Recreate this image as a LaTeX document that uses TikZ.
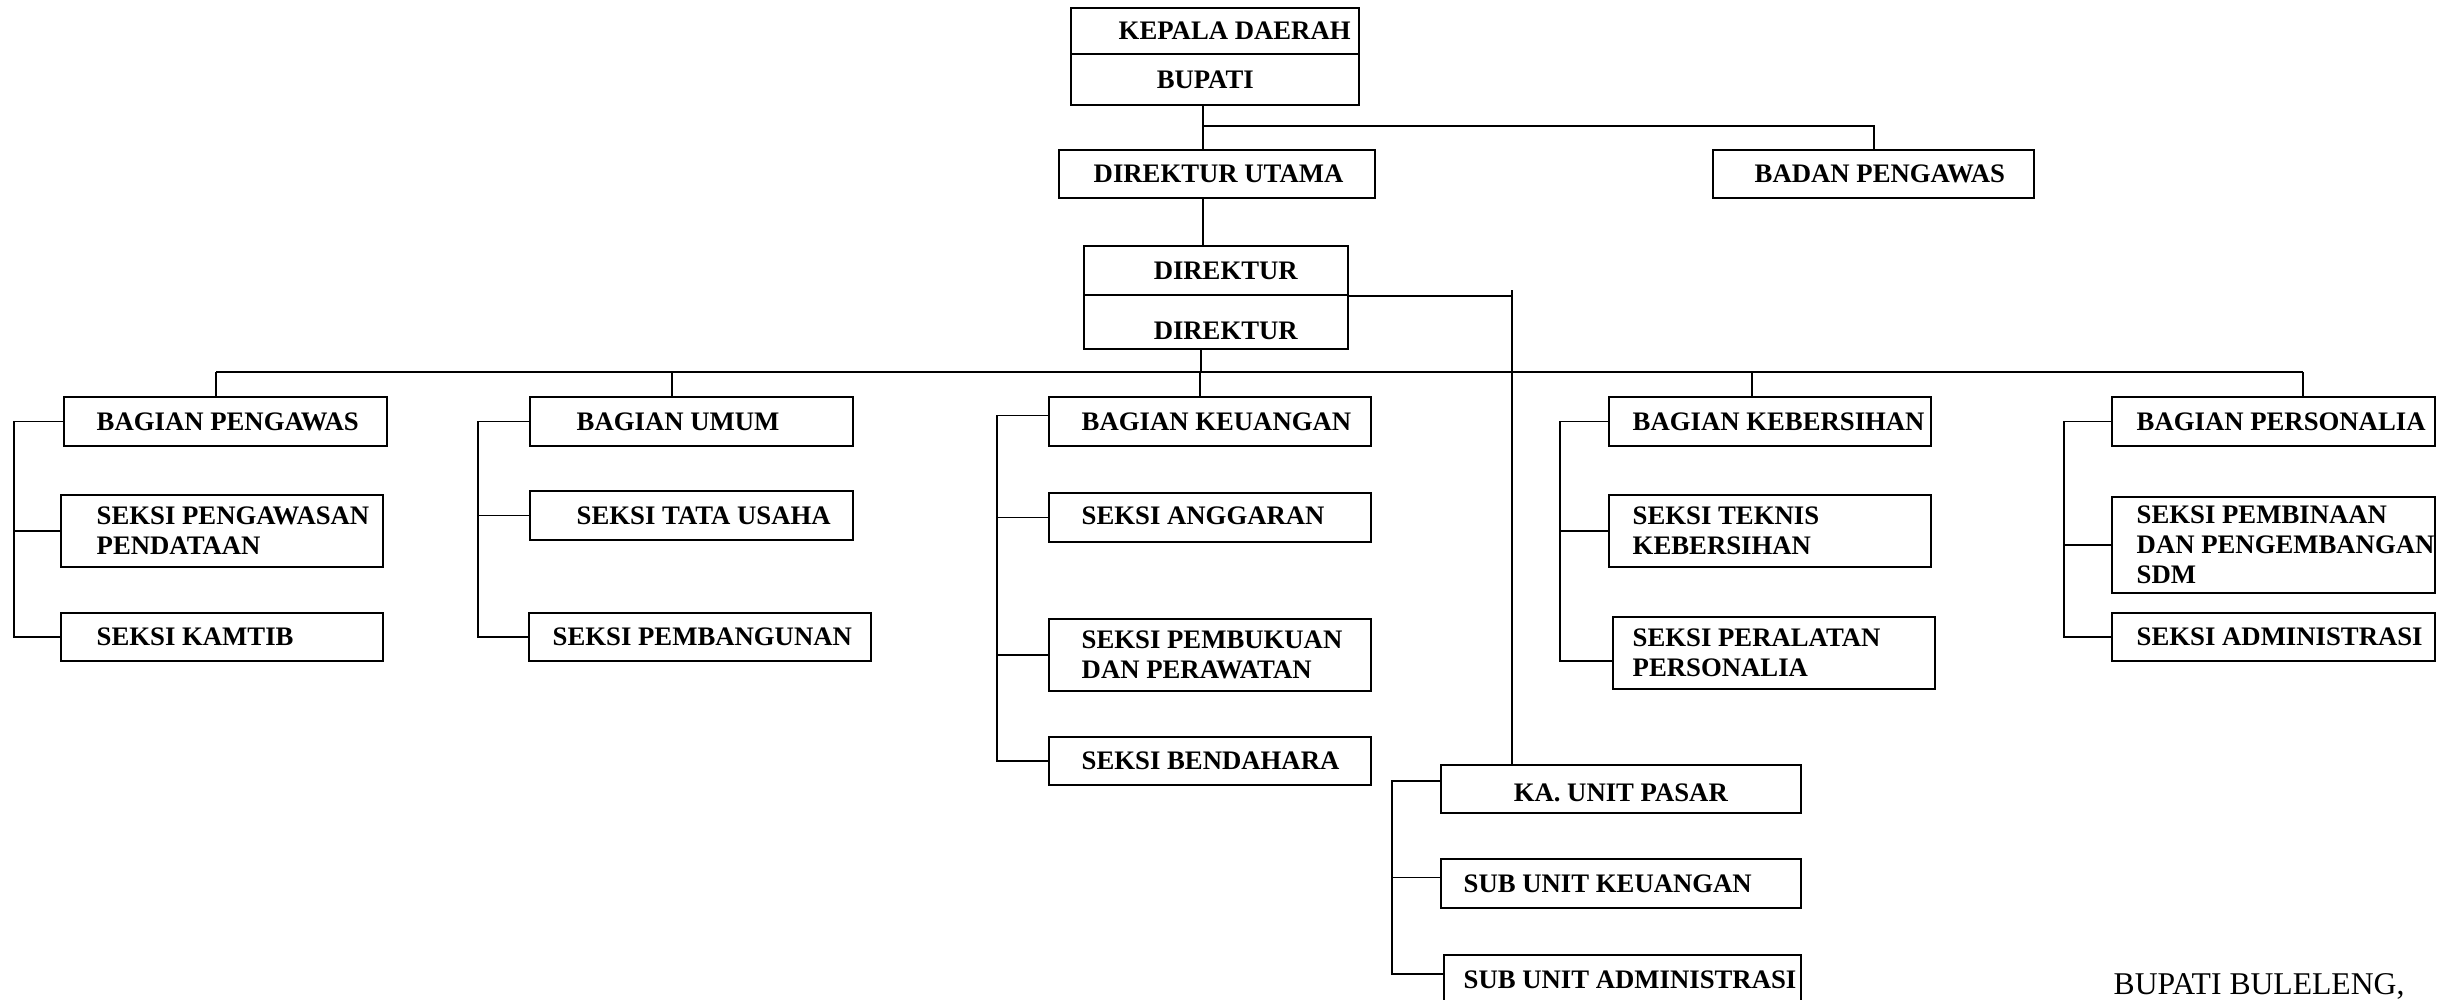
\documentclass[tikz,border=0pt]{standalone}
\usepackage{fontspec}
\setmainfont{Liberation Serif}
\usepackage{tikz}
\usetikzlibrary{positioning,calc}

\begin{document}
\begin{tikzpicture}[x=0.01cm,y=-0.01cm,
    kotak/.style={draw,line width=0.6pt,anchor=north west,inner sep=0pt},
    tulisan/.style={inner sep=0pt,align=left,font=\bfseries\fontsize{7.6}{8.5}\selectfont},
    garis/.style={line width=0.5pt}]
            \def\lb{3.22cm}%方框宽度
            \def\tg{0.49cm}%单行高度
            \def\tgg{0.72cm}%双行高度
            \useasboundingbox (0,0) rectangle (2460,999);
            %顶部: 县长与董事
            \node[kotak,minimum width=2.88cm,minimum height=0.46cm] (kd1) at (1070,7) {};
            \node[tulisan,right=0.48cm of kd1.west] (kd1-t) {KEPALA DAERAH};
            \node[kotak,minimum width=2.88cm,minimum height=0.51cm] (kd2) at (1070,53) {};
            \node[tulisan,right=0.86cm of kd2.west] (kd2-t) {BUPATI};
            \node[kotak,minimum width=3.16cm,minimum height=0.48cm] (du) at (1058,149) {};
            \node[tulisan,right=0.35cm of du.west] (du-t) {DIREKTUR UTAMA};
            \node[kotak,minimum width=3.21cm,minimum height=0.48cm] (bpw) at (1712,149) {};
            \node[tulisan,right=0.42cm of bpw.west] (bpw-t) {BADAN PENGAWAS};
            \node[kotak,minimum width=2.64cm,minimum height=\tg] (dir1) at (1083,245) {};
            \node[tulisan,right=0.70cm of dir1.west] (dir1-t) {DIREKTUR};
            \node[kotak,minimum width=2.64cm,minimum height=0.54cm] (dir2) at (1083,294) {};
            \node[tulisan,right=0.70cm of dir2.west,yshift=-0.09cm] (dir2-t) {DIREKTUR};
            %第一列
            \node[kotak,minimum width=3.23cm,minimum height=\tg] (bp) at (63,396) {};
            \node[tulisan,right=0.33cm of bp.west] (bp-t) {BAGIAN PENGAWAS};
            \node[kotak,minimum width=\lb,minimum height=\tgg] (spp) at (60,494) {};
            \node[tulisan,right=0.36cm of spp.west] (spp-t) {SEKSI PENGAWASAN\\PENDATAAN};
            \node[kotak,minimum width=\lb,minimum height=0.48cm] (sk) at (60,612) {};
            \node[tulisan,right=0.36cm of sk.west] (sk-t) {SEKSI KAMTIB};
            %第二列
            \node[kotak,minimum width=3.23cm,minimum height=\tg] (bu) at (529,396) {};
            \node[tulisan,right=0.47cm of bu.west] (bu-t) {BAGIAN UMUM};
            \node[kotak,minimum width=3.23cm,minimum height=\tg] (stu) at (529,490) {};
            \node[tulisan,right=0.47cm of stu.west] (stu-t) {SEKSI TATA USAHA};
            \node[kotak,minimum width=3.42cm,minimum height=0.48cm] (spm) at (528,612) {};
            \node[tulisan,right=0.24cm of spm.west] (spm-t) {SEKSI PEMBANGUNAN};
            %第三列
            \node[kotak,minimum width=\lb,minimum height=\tg] (bku) at (1048,396) {};
            \node[tulisan,right=0.33cm of bku.west] (bku-t) {BAGIAN KEUANGAN};
            \node[kotak,minimum width=\lb,minimum height=\tg] (sa) at (1048,492) {};
            \node[tulisan,right=0.33cm of sa.west,yshift=0.02cm] (sa-t) {SEKSI ANGGARAN};
            \node[kotak,minimum width=\lb,minimum height=\tgg] (spb) at (1048,618) {};
            \node[tulisan,right=0.33cm of spb.west] (spb-t) {SEKSI PEMBUKUAN\\DAN PERAWATAN};
            \node[kotak,minimum width=\lb,minimum height=0.48cm] (sbd) at (1048,736) {};
            \node[tulisan,right=0.33cm of sbd.west] (sbd-t) {SEKSI BENDAHARA};
            %第四列
            \node[kotak,minimum width=\lb,minimum height=\tg] (bkb) at (1608,396) {};
            \node[tulisan,right=0.24cm of bkb.west] (bkb-t) {BAGIAN KEBERSIHAN};
            \node[kotak,minimum width=\lb,minimum height=\tgg] (stk) at (1608,494) {};
            \node[tulisan,right=0.24cm of stk.west] (stk-t) {SEKSI TEKNIS\\KEBERSIHAN};
            \node[kotak,minimum width=\lb,minimum height=\tgg] (spl) at (1612,616) {};
            \node[tulisan,right=0.20cm of spl.west] (spl-t) {SEKSI PERALATAN\\PERSONALIA};
            %第五列
            \node[kotak,minimum width=3.23cm,minimum height=\tg] (bps) at (2111,396) {};
            \node[tulisan,right=0.25cm of bps.west] (bps-t) {BAGIAN PERSONALIA};
            \node[kotak,minimum width=3.23cm,minimum height=0.96cm] (spdp) at (2111,496) {};
            \node[tulisan,right=0.25cm of spdp.west] (spdp-t) {SEKSI PEMBINAAN\\DAN PENGEMBANGAN\\SDM};
            \node[kotak,minimum width=3.23cm,minimum height=0.48cm] (sad) at (2111,612) {};
            \node[tulisan,right=0.25cm of sad.west] (sad-t) {SEKSI ADMINISTRASI};
            %市场单位
            \node[kotak,minimum width=3.60cm,minimum height=0.48cm] (kup) at (1440,764) {};
            \node[tulisan,right=0.73cm of kup.west,yshift=-0.04cm] (kup-t) {KA. UNIT PASAR};
            \node[kotak,minimum width=3.60cm,minimum height=\tg] (suk) at (1440,858) {};
            \node[tulisan,right=0.23cm of suk.west] (suk-t) {SUB UNIT KEUANGAN};
            \node[kotak,minimum width=3.57cm,minimum height=0.50cm] (sua) at (1443,954) {};
            \node[tulisan,right=0.20cm of sua.west] (sua-t) {SUB UNIT ADMINISTRASI};
            \node[anchor=base west,inner sep=0pt,font=\fontsize{9}{10}\selectfont] (ttd) at (2113,994) {BUPATI BULELENG,};%落款
            %上层连线
            \coordinate (j1) at (1203,126);
            \draw[garis] (kd2.south -| j1) -- (du.north -| j1);
            \draw[garis] (j1) -| (bpw.north);
            \draw[garis] (du.south -| j1) -- (dir1.north -| j1);
            \coordinate (h0) at (1201,372);
            \draw[garis] (dir2.south -| h0) -- (h0);
            %横线与各部门
            \coordinate (b1) at (216,372);
            \coordinate (b2) at (672,372);
            \coordinate (b3) at (1200,372);
            \coordinate (b4) at (1752,372);
            \coordinate (b5) at (2303,372);
            \draw[garis] (b1) -- (b5);
            \draw[garis] (b1) -- (b1 |- bp.north);
            \draw[garis] (b2) -- (b2 |- bu.north);
            \draw[garis] (b3) -- (b3 |- bku.north);
            \draw[garis] (b4) -- (b4 |- bkb.north);
            \draw[garis] (b5) -- (b5 |- bps.north);
            %董事到市场单位
            \coordinate (p0) at (1512,290);
            \draw[garis] (dir1.south east) -- (dir1.south east -| p0);
            \draw[garis] (p0) -- (p0 |- kup.north);
            %左侧括线
            \draw[garis] (bp.west) -- ++(-49,0) |- (sk.west);
            \draw[garis] (spp.west) -- ++(-46,0);
            \draw[garis] (bu.west) -- ++(-51,0) |- (spm.west);
            \draw[garis] (stu.west) -- ++(-51,0);
            \draw[garis] ([yshift=0.06cm]bku.west) -- ++(-51,0) |- (sbd.west);
            \draw[garis] (sa.west) -- ++(-51,0);
            \draw[garis] (spb.west) -- ++(-51,0);
            \draw[garis] (bkb.west) -- ++(-48,0) |- ([yshift=-0.08cm]spl.west);
            \draw[garis] (stk.west) -- ++(-48,0);
            \draw[garis] (bps.west) -- ++(-47,0) |- (sad.west);
            \draw[garis] (spdp.west) -- ++(-47,0);
            \draw[garis] ([yshift=0.08cm]kup.west) -- ++(-48,0) |- ([yshift=0.06cm]sua.west);
            \draw[garis] ([yshift=0.06cm]suk.west) -- ++(-48,0);
\end{tikzpicture}
\end{document}
